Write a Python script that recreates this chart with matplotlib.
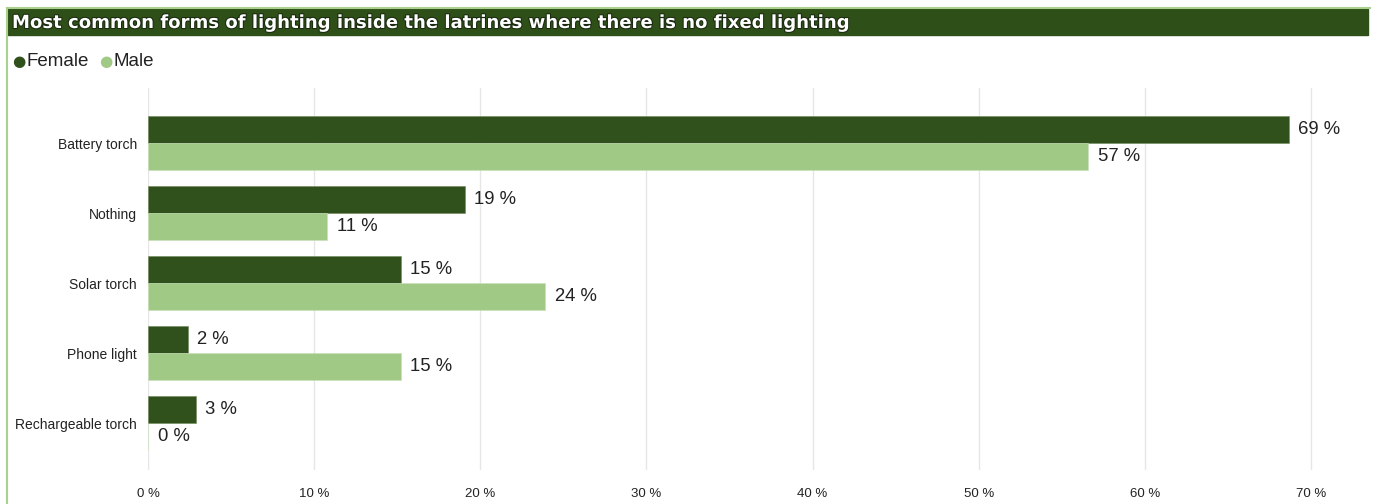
import numpy as np
import matplotlib.pyplot as plt
import matplotlib.patheffects as pe
from matplotlib.patches import Rectangle
from matplotlib.lines import Line2D

plt.rcParams['font.family'] = ['Liberation Sans', 'DejaVu Sans']

# survey shares (%) per lighting form
categories = ["Battery torch", "Nothing", "Solar torch", "Phone light", "Rechargeable torch"]
female = [68.7, 19.1, 15.2, 2.4, 2.9]
male = [56.6, 10.8, 23.9, 15.2, 0.0]
xticks = [0, 10, 20, 30, 40, 50, 60, 70]

dark = "#31511c"
light = "#a0c986"
border = "#a9d08e"
txt = "#222222"

W, H = 1376, 504
fig = plt.figure(figsize=(W / 100, H / 100), dpi=100)

# frame lines on top and left
fig.add_artist(Line2D([7 / W, 7 / W], [0, 1 - 8 / H], color=border, lw=1.5))
fig.add_artist(Line2D([7 / W, 1370 / W], [1 - 8 / H, 1 - 8 / H], color=border, lw=1.5))

# title bar
fig.add_artist(Rectangle((8 / W, 1 - 35 / H), 1360 / W, 26 / H, color="#2e4f17",
                         transform=fig.transFigure))
fig.text(12 / W, 1 - 23 / H,
         "Most common forms of lighting inside the latrines where there is no fixed lighting",
         color="white", fontsize=13, fontweight="bold", family="DejaVu Sans",
         va="center", ha="left",
         path_effects=[pe.withStroke(linewidth=1.5, foreground="#1a2a10")])

# legend
fig.text(19 / W, 1 - 61 / H, "\u25cf", color=dark, fontsize=11, va="center", ha="center",
         family="DejaVu Sans")
fig.text(27 / W, 1 - 61 / H, "Female", color=txt, fontsize=13.5, va="center")
fig.text(106 / W, 1 - 61 / H, "\u25cf", color=light, fontsize=11, va="center", ha="center",
         family="DejaVu Sans")
fig.text(114 / W, 1 - 61 / H, "Male", color=txt, fontsize=13.5, va="center")

xmax = 72
x0 = 148
px_per = (1311 - 148) / 70
ax = fig.add_axes([x0 / W, 1 - 470 / H, xmax * px_per / W, (470 - 88) / H])

y = np.arange(len(categories))
h = 0.385
ax.barh(y - h / 2, female, height=h, color=dark, edgecolor="#6e8a5a", linewidth=0.4)
ax.barh(y + h / 2, male, height=h, color=light, edgecolor="#c8e0b8", linewidth=0.4)

for i in range(len(categories)):
    ax.annotate(f"{female[i]:.0f} %", (female[i], y[i] - h / 2), xytext=(6.5, 0),
                textcoords="offset points", va="center", ha="left", fontsize=13.3, color=txt)
    ax.annotate(f"{male[i]:.0f} %", (male[i], y[i] + h / 2), xytext=(7, 0),
                textcoords="offset points", va="center", ha="left", fontsize=13.3, color=txt)

ax.set_xlim(0, xmax)
ax.set_ylim(4.67, -0.79)
ax.set_xticks(xticks)
ax.set_xticklabels([f"{t} %" for t in xticks], fontsize=9.5, color=txt)
ax.set_yticks(y)
ax.set_yticklabels(categories, fontsize=10, color=txt)
ax.tick_params(length=0)
ax.tick_params(axis="x", pad=13)
ax.tick_params(axis="y", pad=8)
ax.grid(axis="x", color="#e6e6e6", lw=1)
ax.set_axisbelow(True)
for s in ax.spines.values():
    s.set_visible(False)

fig.savefig("out.png", dpi=100)
